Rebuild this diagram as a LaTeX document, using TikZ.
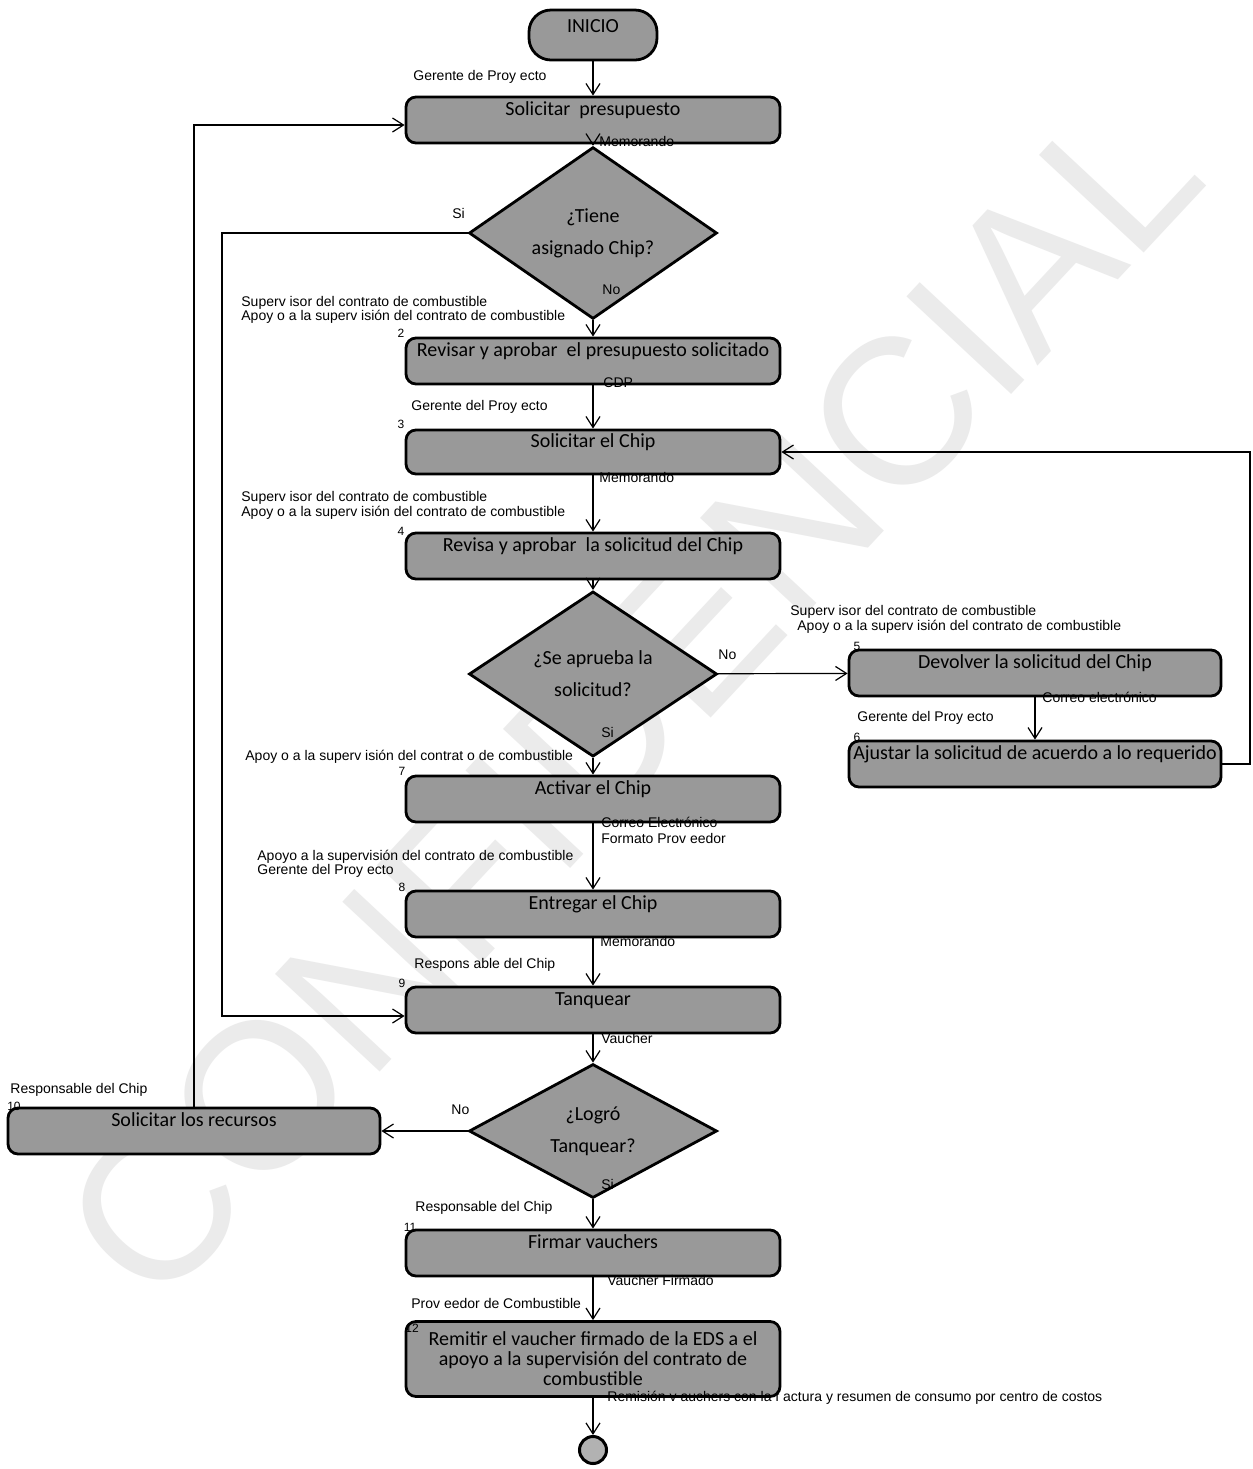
\documentclass[tikz,border=0pt]{standalone}
\usepackage{fontspec}
\setmainfont{Liberation Sans}
\newfontfamily\boxfont{Carlito}
\usetikzlibrary{shapes.geometric,arrows.meta}
\begin{document}
\begin{tikzpicture}[x=0.5pt,y=-0.5pt,
  boxbase/.style={draw=black, line width=1.4pt, fill=black!40, rounded corners=5pt,
    inner sep=1pt, align=center},
  proc/.style={boxbase, minimum width=187pt, minimum height=23pt,
    text height=7pt, text depth=11.5pt,
    font=\boxfont\fontsize{10}{12}\selectfont},
  proctall/.style={boxbase, minimum width=187pt, minimum height=37.5pt,
    font=\boxfont\fontsize{10}{10}\selectfont},
  dec/.style={diamond, draw=black, line width=1.4pt, fill=black!40,
    minimum width=124pt, minimum height=56pt, inner sep=0pt, align=center,
    font=\boxfont\fontsize{10}{16}\selectfont},
  lbl/.style={anchor=west, inner sep=0pt, font=\fontsize{7}{8}\selectfont, align=left},
  num/.style={inner sep=0pt, font=\fontsize{6}{7}\selectfont},
  arr/.style={draw=black, line width=0.6pt, -{Straight Barb[length=5.5pt,width=7pt]}},
]
\fill[white] (0,0) rectangle (1253,1469);
\useasboundingbox (0,0) rectangle (1253,1469);
% watermark
\node[rotate=47, text=black!8, font=\fontsize{104}{104}\selectfont, inner sep=0pt] (wm) at (631,698) {CONFIDENCIAL};

% nodes
\node[boxbase, rounded corners=11pt, minimum width=64pt, minimum height=25pt,
  text height=7pt, text depth=10pt, font=\boxfont\fontsize{10}{12}\selectfont] (inicio) at (593,35) {INICIO};
\node[proc] (b1) at (593,120) {Solicitar\ \ presupuesto};
\node[dec] (d1) at (593,233) {¿Tiene\\asignado Chip?};
\node[proc] (b2) at (593,361) {Revisar y aprobar\ \ el presupuesto solicitado};
\node[proc, minimum height=22pt] (b3) at (593,452) {Solicitar el Chip};
\node[proc] (b4) at (593,556) {Revisa y aprobar\ \ la solicitud del Chip};
\node[dec] (d2) at (593,674) {¿Se aprueba la\\solicitud?};
\node[proc, minimum width=186pt] (b5) at (1035,673) {Devolver la solicitud del Chip};
\node[proc, minimum width=186pt] (b6) at (1035,764) {Ajustar la solicitud de acuerdo a lo requerido};
\node[proc] (b7) at (593,799) {Activar el Chip};
\node[proc] (b8) at (593,914) {Entregar el Chip};
\node[proc] (b9) at (593,1010) {Tanquear};
\node[dec, minimum height=55pt] (d3) at (593,1131) {¿Logró\\Tanquear?};
\node[proc, minimum width=186pt] (b10) at (194,1131) {Solicitar los recursos};
\node[proc] (b11) at (593,1253) {Firmar vauchers};
\node[proctall] (b12) at (593,1359) {Remitir el vaucher firmado de la EDS a el\\apoyo a la supervisión del contrato de\\combustible};
\node[circle, draw=black, line width=1.5pt, fill=black!30, minimum size=13.5pt, inner sep=0pt] (fin) at (593,1450) {};

% connectors
\draw[arr] (inicio) -- (b1);
\draw[arr] (b1) -- (d1);
\draw[arr] (d1) -- (b2);
\draw[arr] (b2) -- (b3);
\draw[arr] (b3) -- (b4);
\draw[arr] (b4) -- (d2);
\draw[arr] (d2) -- (b7);
\draw[arr] (d2) -- (b5);
\draw[arr] (b5) -- (b6);
\draw[arr] (b7) -- (b8);
\draw[arr] (b8) -- (b9);
\draw[arr] (b9) -- (d3);
\draw[arr] (d3) -- (b10);
\draw[arr] (d3) -- (b11);
\draw[arr] (b11) -- (b12);
\draw[arr] (b12) -- (fin);
\coordinate (rr) at (1250,600);
\draw[arr] (b6.east) -- (b6.east -| rr) -- (b3.east -| rr) -- (b3.east);
\coordinate (ll) at (222,600);
\coordinate (b9in) at ([yshift=-3pt]b9.west);
\draw[arr] (d1.west) -- (d1.west -| ll) -- (ll |- b9in) -- (b9in);
\coordinate (b1in) at ([yshift=-2.5pt]b1.west);
\draw[arr] (b10.north) -- (b10.north |- b1in) -- (b1in);

% role labels
\node[lbl] (r1) at (413,77) {Gerente de Proy ecto};
\node[lbl] (r2a) at (241,303) {Superv isor del contrato de combustible};
\node[lbl] (r2b) at (241,317) {Apoy o a la superv isión del contrato de combustible};
\node[lbl] (r3) at (411,407) {Gerente del Proy ecto};
\node[lbl] (r4a) at (241,498) {Superv isor del contrato de combustible};
\node[lbl] (r4b) at (241,513) {Apoy o a la superv isión del contrato de combustible};
\node[lbl] (r5a) at (790,612) {Superv isor del contrato de combustible};
\node[lbl] (r5b) at (797,627) {Apoy o a la superv isión del contrato de combustible};
\node[lbl] (r6) at (857,718) {Gerente del Proy ecto};
\node[lbl] (r7) at (245,757) {Apoy o a la superv isión del contrat o de combustible};
\node[lbl] (r8a) at (257,857) {Apoyo a la supervisión del contrato de combustible};
\node[lbl] (r8b) at (257,871) {Gerente del Proy ecto};
\node[lbl] (r9) at (414,965) {Respons able del Chip};
\node[lbl] (r10) at (10,1090) {Responsable del Chip};
\node[lbl] (r11) at (415,1208) {Responsable del Chip};
\node[lbl] (r12) at (411,1303) {Prov eedor de Combustible};

% output labels
\node[lbl] (o1) at (599,141) {Memorando};
\node[lbl] (o2) at (603,383) {CDP};
\node[lbl] (o3) at (599,477) {Memorando};
\node[lbl] (o5) at (1042,697) {Correo electrónico};
\node[lbl] (o7a) at (601,822) {Correo Electrónico};
\node[lbl] (o7b) at (601,838) {Formato Prov eedor};
\node[lbl] (o8) at (600,941) {Memorando};
\node[lbl] (o9) at (601,1038) {Vaucher};
\node[lbl] (o11) at (607,1280) {Vaucher Firmado};
\node[lbl] (o12) at (607,1398) {Remisión v auchers con la f actura y resumen de consumo por centro de costos};

% decision labels
\node[lbl] (s1) at (452,213) {Si};
\node[lbl] (n1) at (602,290) {No};
\node[lbl] (n2) at (718,655) {No};
\node[lbl] (s2) at (601,732) {Si};
\node[lbl] (n3) at (451,1110) {No};
\node[lbl] (s3) at (601,1184) {Si};

% step numbers
\node[num] (k2) at (401,333) {2};
\node[num] (k3) at (401,424) {3};
\node[num] (k4) at (401,531) {4};
\node[num] (k5) at (857,646) {5};
\node[num] (k6) at (857,737) {6};
\node[num] (k7) at (402,771) {7};
\node[num] (k8) at (402,887) {8};
\node[num] (k9) at (402,983) {9};
\node[num] (k10) at (14,1106) {10};
\node[num] (k11) at (410,1227) {11};
\node[num] (k12) at (412,1328) {12};
\end{tikzpicture}
\end{document}
